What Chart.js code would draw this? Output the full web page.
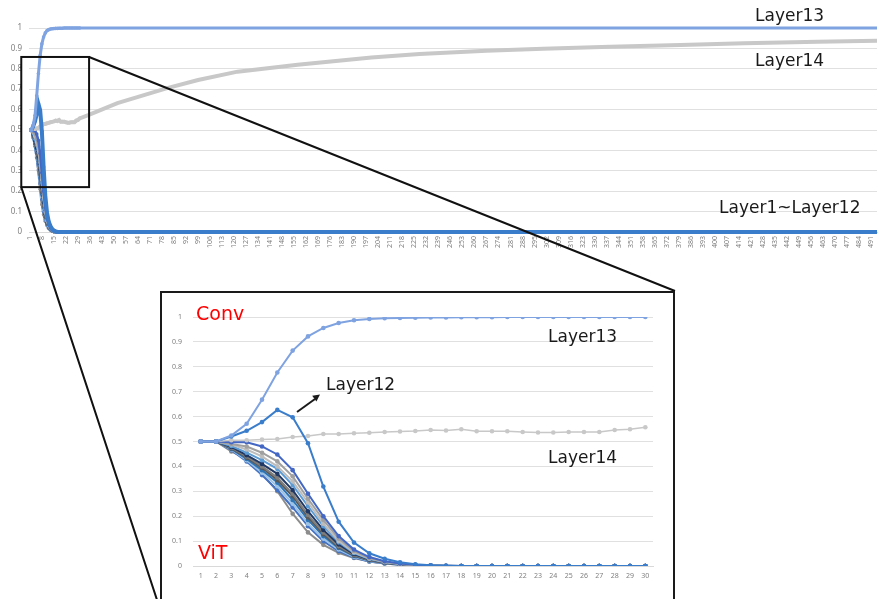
<!DOCTYPE html>
<html>
<head>
<meta charset="utf-8">
<script src="https://cdn.jsdelivr.net/npm/chart.js@4.4.1/dist/chart.umd.min.js"></script>
<style>
  html, body { margin: 0; padding: 0; background: #fff; overflow: hidden; }
  #page { position: relative; width: 881px; height: 599px; overflow: hidden; }
  #main { position: absolute; left: 0; top: 0; }
  #zoom { position: absolute; left: 160px; top: 291px; width: 515px; height: 318px;
          border: 2px solid #1a1a1a; background: #fff; box-sizing: border-box; }
  #zoomChart { position: absolute; left: 0; top: 0; }
  svg { position: absolute; left: 0; top: 0; pointer-events: none; }
</style>
</head>
<body>
<div id="page">
  <canvas id="main" width="881" height="599"></canvas>
  <div id="zoom"><canvas id="zoomChart" width="511" height="306"></canvas></div>
  <svg width="881" height="599">
    <g font-family="DejaVu Sans" font-size="17" fill="#1a1a1a">
      <text x="755" y="21">Layer13</text>
      <text x="755" y="66">Layer14</text>
      <text x="719" y="213">Layer1~Layer12</text>
      <text x="548" y="342">Layer13</text>
      <text x="548" y="463">Layer14</text>
      <text x="326" y="390">Layer12</text>
    </g>
    <g font-family="DejaVu Sans" font-size="19" fill="#ff0000">
      <text x="196" y="320">Conv</text>
      <text x="198" y="559">ViT</text>
    </g>
    <line x1="297" y1="412" x2="315" y2="399" stroke="#1a1a1a" stroke-width="2"/>
    <polygon points="320,394.5 316.4,401.4 312.2,395.8" fill="#1a1a1a"/>
  </svg>
</div>
<script>
// steps shown in the zoomed panel
const steps = [1,2,3,4,5,6,7,8,9,10,11,12,13,14,15,16,17,18,19,20,21,22,23,24,25,26,27,28,29,30];

// ViT layers (1-11), all collapse to 0
const layer1  = [0.5,0.5,0.497,0.497,0.48,0.448,0.385,0.29,0.2,0.12,0.066,0.036,0.019,0.01,0.005,0.002,0.001,0,0,0,0,0,0,0,0,0,0,0,0,0];
const layer2  = [0.5,0.5,0.49,0.48,0.455,0.42,0.36,0.27,0.185,0.11,0.06,0.032,0.017,0.009,0.004,0.002,0.001,0,0,0,0,0,0,0,0,0,0,0,0,0];
const layer3  = [0.5,0.5,0.488,0.468,0.44,0.4,0.34,0.255,0.17,0.1,0.055,0.03,0.016,0.008,0.004,0.002,0.001,0,0,0,0,0,0,0,0,0,0,0,0,0];
const layer4  = [0.5,0.5,0.482,0.455,0.425,0.39,0.325,0.24,0.16,0.095,0.052,0.028,0.015,0.008,0.004,0.002,0.001,0,0,0,0,0,0,0,0,0,0,0,0,0];
const layer5  = [0.5,0.5,0.478,0.445,0.41,0.37,0.305,0.22,0.145,0.087,0.048,0.026,0.014,0.007,0.003,0.001,0,0,0,0,0,0,0,0,0,0,0,0,0,0];
const layer6  = [0.5,0.5,0.475,0.44,0.4,0.355,0.29,0.205,0.135,0.08,0.045,0.024,0.013,0.007,0.003,0.001,0,0,0,0,0,0,0,0,0,0,0,0,0,0];
const layer7  = [0.5,0.5,0.472,0.435,0.395,0.345,0.28,0.195,0.128,0.076,0.042,0.023,0.012,0.006,0.003,0.001,0,0,0,0,0,0,0,0,0,0,0,0,0,0];
const layer8  = [0.5,0.5,0.47,0.43,0.385,0.335,0.265,0.185,0.12,0.072,0.04,0.022,0.012,0.006,0.003,0.001,0,0,0,0,0,0,0,0,0,0,0,0,0,0];
const layer9  = [0.5,0.5,0.468,0.425,0.375,0.32,0.25,0.17,0.11,0.066,0.037,0.02,0.011,0.005,0.002,0.001,0,0,0,0,0,0,0,0,0,0,0,0,0,0];
const layer10 = [0.5,0.5,0.465,0.42,0.365,0.305,0.235,0.16,0.1,0.06,0.034,0.018,0.01,0.005,0.002,0.001,0,0,0,0,0,0,0,0,0,0,0,0,0,0];
const layer11 = [0.5,0.5,0.46,0.43,0.37,0.3,0.21,0.135,0.085,0.053,0.032,0.018,0.01,0.005,0.002,0.001,0,0,0,0,0,0,0,0,0,0,0,0,0,0];
const layer12 = [0.5,0.5,0.52,0.543,0.578,0.627,0.597,0.493,0.319,0.178,0.094,0.051,0.029,0.015,0.007,0.003,0.001,0,0,0,0,0,0,0,0,0,0,0,0,0];
// Conv layer, goes to 1
const layer13 = [0.5,0.5,0.524,0.571,0.668,0.777,0.865,0.922,0.956,0.976,0.987,0.992,0.995,0.996,0.997,0.998,0.998,0.999,0.999,0.999,1,1,1,1,1,1,1,1,1,1];
// last layer, slow climb
const layer14 = [0.5,0.5,0.505,0.505,0.508,0.51,0.518,0.522,0.53,0.53,0.533,0.535,0.538,0.54,0.542,0.546,0.544,0.549,0.541,0.541,0.541,0.538,0.536,0.536,0.538,0.538,0.538,0.546,0.549,0.557];

// long run of the main chart, read at a few steps
const layer14TailSteps = [35,52,81,99,122,157,200,228,267,300,339,380,417,460,495];
const layer14TailVals  = [0.573,0.632,0.705,0.745,0.786,0.82,0.855,0.873,0.888,0.898,0.908,0.917,0.925,0.932,0.938];
const lastStep = 495;

const mainTicks = [1,8,15,22,29,36,43,50,57,64,71,78,85,92,99,106,113,120,127,134,141,148,155,162,169,176,183,190,197,204,211,218,225,232,239,246,253,260,267,274,281,288,295,302,309,316,323,330,337,344,351,358,365,372,379,386,393,400,407,414,421,428,435,442,449,456,463,470,477,484,491];
const yTicks = [0,0.1,0.2,0.3,0.4,0.5,0.6,0.7,0.8,0.9,1];

// area of the main chart that the panel enlarges
const zoomWindow = {from: -4, to: 35.5, low: 0.22, high: 0.858};

const layers = [
  {name: 'Layer13', vals: layer13, color: '#7fa3e0', end: 1},
  {name: 'Layer12', vals: layer12, color: '#3a7dcb', end: 0},
  {name: 'Layer14', vals: layer14, color: '#c8c8c8', end: null},
  {name: 'Layer1',  vals: layer1,  color: '#4467c4', end: 0},
  {name: 'Layer2',  vals: layer2,  color: '#a0a0a0', end: 0},
  {name: 'Layer3',  vals: layer3,  color: '#bdbdbd', end: 0},
  {name: 'Layer4',  vals: layer4,  color: '#5b9bd5', end: 0},
  {name: 'Layer5',  vals: layer5,  color: '#203864', end: 0},
  {name: 'Layer6',  vals: layer6,  color: '#7f7f7f', end: 0},
  {name: 'Layer7',  vals: layer7,  color: '#595959', end: 0},
  {name: 'Layer8',  vals: layer8,  color: '#2e75b6', end: 0},
  {name: 'Layer9',  vals: layer9,  color: '#9dc3e6', end: 0},
  {name: 'Layer10', vals: layer10, color: '#4472c4', end: 0},
  {name: 'Layer11', vals: layer11, color: '#8c8c8c', end: 0},
];

const tickColor = '#808080';
const gridColor = '#e0e0e0';
const fmt = v => String(+(+v).toFixed(1));

function mainData(l) {
  const head = l.vals.map((v, i) => ({x: steps[i], y: v}));
  const tail = l.end === null
    ? layer14TailSteps.map((s, i) => ({x: s, y: layer14TailVals[i]}))
    : [{x: lastStep, y: l.end}];
  return head.concat(tail);
}

function mainWidth(l) {
  if (l.end === null || l.name === 'Layer12') return 4;
  if (l.name === 'Layer13') return 3;
  return 2.5;
}

const zoomBox = {
  id: 'zoomBox',
  afterDraw(chart) {
    const {ctx, scales: {x, y}} = chart;
    const left = x.getPixelForValue(zoomWindow.from), right = x.getPixelForValue(zoomWindow.to);
    const top = y.getPixelForValue(zoomWindow.high), bottom = y.getPixelForValue(zoomWindow.low);
    const box = document.getElementById('zoom');
    const bl = box.offsetLeft, bt = box.offsetTop;
    const br = bl + box.offsetWidth, bb = bt + box.offsetHeight;
    ctx.save();
    ctx.strokeStyle = '#111';
    ctx.lineWidth = 2;
    ctx.strokeRect(left, top, right - left, bottom - top);
    ctx.beginPath();
    ctx.moveTo(right, top);
    ctx.lineTo(br, bt);
    ctx.moveTo(left, bottom);
    ctx.lineTo(bl, bb);
    ctx.stroke();
    ctx.restore();
  }
};

new Chart(document.getElementById('main'), {
  type: 'line',
  data: {
    datasets: layers.map(l => ({
      label: l.name,
      data: mainData(l),
      borderColor: l.color,
      backgroundColor: l.color,
      borderWidth: mainWidth(l),
      pointRadius: c => c.dataIndex < steps.length ? 1.8 : 0,
      pointBorderWidth: 0,
      clip: {left: 0, right: 0, top: 4, bottom: 4},
    }))
  },
  options: {
    responsive: false,
    animation: false,
    layout: {padding: {top: 28, left: 0, right: 0, bottom: 337}},
    plugins: {legend: {display: false}, tooltip: {enabled: false}},
    scales: {
      x: {
        type: 'linear', min: 0.5, max: 494.5,
        afterBuildTicks: s => { s.ticks = mainTicks.map(v => ({value: v})); },
        afterFit: s => { s.height = 30; s.paddingLeft = 0; s.paddingRight = 0; },
        grid: {display: false, drawTicks: false},
        border: {color: '#d9d9d9'},
        ticks: {autoSkip: false, minRotation: 90, maxRotation: 90, font: {family: 'Noto Sans', size: 7}, color: tickColor, padding: 4}
      },
      y: {
        min: 0, max: 1,
        afterBuildTicks: s => { s.ticks = yTicks.map(v => ({value: v})); },
        afterFit: s => { s.width = 29; },
        grid: {color: gridColor, drawTicks: false},
        border: {display: false},
        ticks: {font: {family: 'Noto Sans', size: 8}, color: tickColor, padding: 7, callback: fmt}
      }
    }
  },
  plugins: [zoomBox]
});

new Chart(document.getElementById('zoomChart'), {
  type: 'line',
  data: {
    labels: steps,
    datasets: layers.map(l => ({
      label: l.name,
      data: l.vals,
      borderColor: l.color,
      backgroundColor: l.color,
      borderWidth: l.end === null ? 1.5 : 2,
      pointRadius: 2.3,
      pointBorderWidth: 0,
    }))
  },
  options: {
    responsive: false,
    animation: false,
    layout: {padding: {top: 24, left: 0, right: 20, bottom: 13}},
    plugins: {legend: {display: false}, tooltip: {enabled: false}},
    scales: {
      x: {
        offset: true,
        afterFit: s => { s.height = 20; },
        grid: {display: false, drawTicks: false},
        border: {color: '#d9d9d9'},
        ticks: {autoSkip: false, maxRotation: 0, font: {family: 'Noto Sans', size: 7}, color: tickColor, padding: 6}
      },
      y: {
        min: 0, max: 1,
        afterBuildTicks: s => { s.ticks = yTicks.map(v => ({value: v})); },
        afterFit: s => { s.width = 31; },
        grid: {color: gridColor, drawTicks: false},
        border: {display: false},
        ticks: {font: {family: 'Noto Sans', size: 7}, color: tickColor, padding: 11, callback: fmt}
      }
    }
  }
});
</script>
</body>
</html>
